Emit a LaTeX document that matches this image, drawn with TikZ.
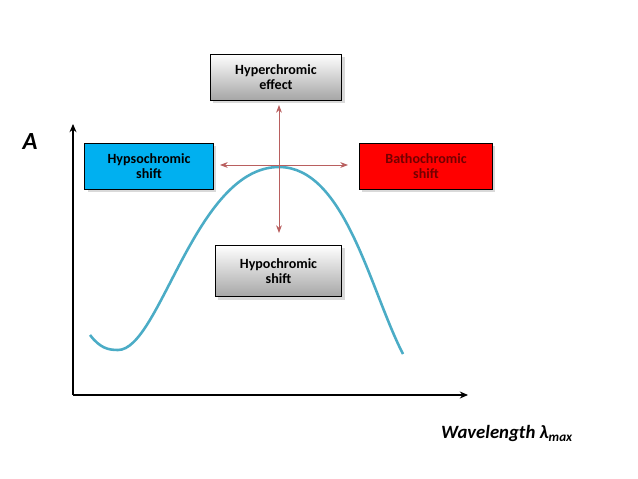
\documentclass[tikz,border=0pt]{standalone}
\usepackage{fontspec}
\setmainfont{Carlito}
\usetikzlibrary{arrows.meta,shadows}
\definecolor{curveblue}{RGB}{75,172,198}
\definecolor{shiftarrow}{RGB}{185,95,95}
\definecolor{hypsoblue}{RGB}{0,176,240}
\tikzset{>=Stealth}
\tikzstyle{effectbox}=[draw=black,thick,minimum width=4.0cm,minimum height=1.38cm,align=center,
                       font=\bfseries\fontsize{12}{13}\selectfont,drop shadow={opacity=0.3}]
\tikzstyle{graybox}=[effectbox,top color=white,bottom color=black!35]
\tikzstyle{shiftline}=[<->,shiftarrow,thick]

\begin{document}
\begin{tikzpicture}[x=0.03cm,y=-0.03cm]
  \useasboundingbox (0,0) rectangle (638,479);
  
    % axes
    \coordinate (origin) at (73,395);
    \coordinate (ytop) at (73,124);
    \coordinate (xend) at (468,395);
    \draw[line width=1.6pt,-{Stealth[length=7pt,width=6pt]}] (origin) -- (ytop);
    \draw[line width=1.6pt,-{Stealth[length=7pt,width=6pt]}] (origin) -- (xend);
    \node[font=\bfseries\itshape\fontsize{21}{22}\selectfont] (alabel) at (30,142) {A};
    \node[font=\bfseries\itshape\fontsize{16}{18}\selectfont] (wlabel) at (507,433) {Wavelength λ\textsubscript{max}};
    
    % absorption band
    \coordinate (peak) at (279,167);
    \draw[curveblue,line width=2.2pt]
      (90,335) .. controls (100,348) and (108,350) .. (118,350)
      .. controls (160,350) and (195,167) .. (peak)
      .. controls (345,167) and (370,290) .. (403,354);
    
    % effect boxes
    \node[graybox,minimum width=3.95cm] (hyper) at (276,77) {Hyperchromic\\effect};
    \node[effectbox,fill=hypsoblue,minimum width=3.85cm] (hypso) at (149,166.5) {Hypsochromic\\shift};
    \node[effectbox,fill=red,text=red!45!black] (batho) at (426,166.5) {Bathochromic\\shift};
    \node[graybox,minimum width=3.8cm,minimum height=1.55cm] (hypo) at (278.5,271) {Hypochromic\\shift};
    
    \draw[shiftline] (peak) ++(0,-62) -- ++(0,128);
    \draw[shiftline] (peak) ++(-59,-2) -- ++(128,0);
  
  \end{tikzpicture}
\end{document}
